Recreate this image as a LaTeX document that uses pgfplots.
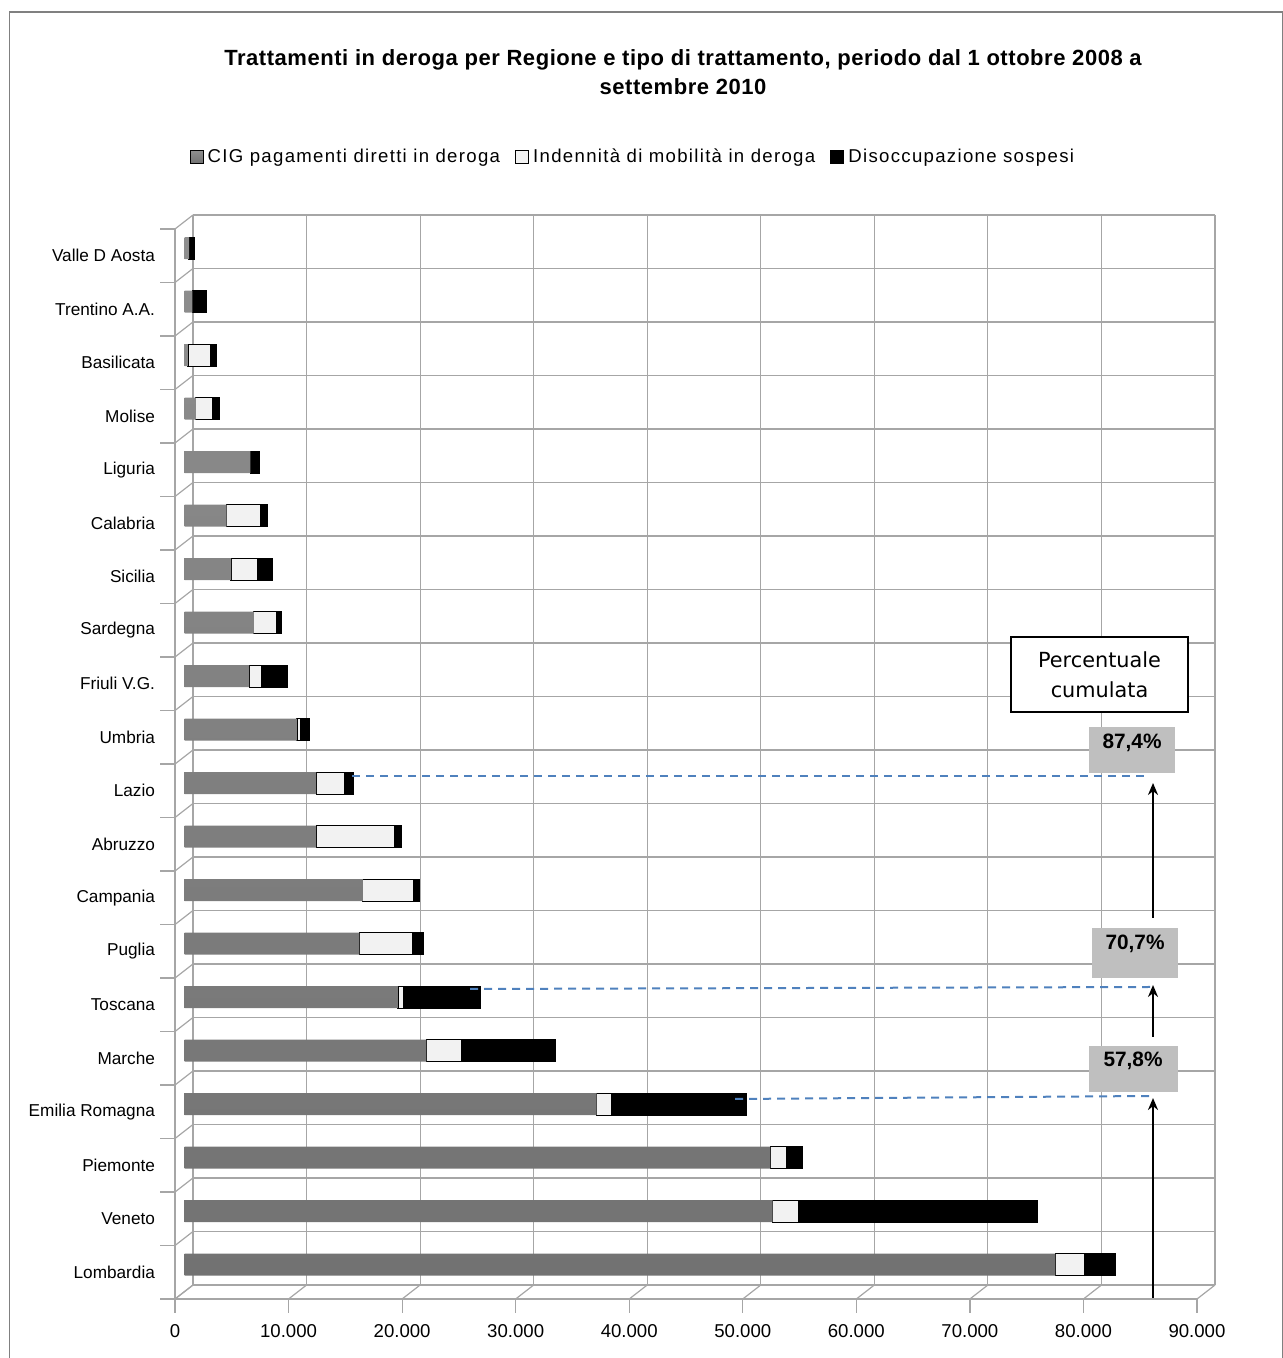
\documentclass[border=0pt]{standalone}
\usepackage{pgfplots}
\pgfplotsset{compat=1.18}
\usepackage{pgfplotstable}
\usepackage{fontspec}
\setmainfont{Liberation Sans}
\newfontfamily\dejavu{DejaVu Sans}
\usetikzlibrary{arrows.meta}
\definecolor{gtop}{HTML}{8E8E8E}
\definecolor{gbot}{HTML}{727272}
\definecolor{wbar}{HTML}{F2F2F2}
\definecolor{gridc}{HTML}{A6A6A6}
\definecolor{dashblue}{HTML}{4F81BD}
\definecolor{boxgray}{HTML}{BFBFBF}

\pgfplotstableread{
idx gray white black
0  76700 2600 2700
1  51800 2300 21000
2  51600 1400 1400
3  36300 1300 11900
4  21300 3100 8300
5  18800 500  6800
6  15400 4700 900
7  15700 4500 500
8  11600 6900 600
9  11600 2500 800
10 9900  300  800
11 5700  1100 2300
12 6100  2000 400
13 4100  2300 1300
14 3700  3000 600
15 5800  0    800
16 1000  1500 600
17 300   2000 500
18 700   0    1200
19 400   0    500
}\datatab

\begin{document}
\begin{tikzpicture}
\path[use as bounding box] (0,0) rectangle (641.5pt,679pt);

% back wall grid
\begin{axis}[at={(96.5pt,36.5pt)}, anchor=south west, scale only axis,
  width=511pt, height=535pt, xmin=0, xmax=90000, ymin=0, ymax=20,
  xtick={0,10000,...,90000}, ytick={0,1,...,20}, scaled ticks=false,
  xticklabels={}, yticklabels={}, tick style={draw=none},
  grid=major, major grid style={gridc, line width=0.6pt},
  axis line style={draw=none}]
\end{axis}

% front axis (labels)
\begin{axis}[at={(87.5pt,29.5pt)}, anchor=south west, scale only axis,
  width=511pt, height=535pt, xmin=0, xmax=90000, ymin=0, ymax=20,
  axis x line*=bottom, axis y line*=left,
  axis line style={gridc, line width=0.6pt},
  xtick={0,10000,...,90000}, ytick={0.5,1.5,...,19.5},
  yticklabels={Lombardia,Veneto,Piemonte,Emilia Romagna,Marche,Toscana,Puglia,Campania,Abruzzo,Lazio,Umbria,Friuli V.G.,Sardegna,Sicilia,Calabria,Liguria,Molise,Basilicata,Trentino A.A.,Valle D Aosta},
  tick style={draw=none}, scaled ticks=false,
  xticklabel style={font=\fontsize{9.3}{11}\selectfont, /pgf/number format/1000 sep={.}, /pgf/number format/assume math mode=true, yshift=-9pt},
  yticklabel style={font=\fontsize{8.6}{10}\selectfont, xshift=-6.5pt}]
\end{axis}

\begin{scope}[x=0.5pt,y=-0.5pt,shift={(0pt,679pt)}]
  \draw[gray, line width=0.6pt] (9.5,1358) -- (9.5,12) -- (1282.5,12) -- (1282.5,1358);
  \foreach \k in {0,...,9} {
    \draw[gridc, line width=0.6pt] ({175+113.556*\k},1299) -- ++(0,14);
    \draw[gridc, line width=0.6pt] ({175+113.556*\k},1299) -- ++(18,-14);
  }
  \foreach \j in {0,...,20} {
    \draw[gridc, line width=0.6pt] (175,{1299-53.5*\j}) -- ++(-15,0);
    \draw[gridc, line width=0.6pt] (175,{1299-53.5*\j}) -- ++(18,-14);
  }
  \node[align=center, font=\bfseries\fontsize{11}{14.5}\selectfont\addfontfeatures{LetterSpace=2.5}] at (683,72)
    {Trattamenti in deroga per Regione e tipo di trattamento, periodo dal 1 ottobre 2008 a\\settembre 2010};
\end{scope}

% bars
\begin{axis}[at={(92.25pt,33.25pt)}, anchor=south west, scale only axis,
  width=511pt, height=535pt, xmin=0, xmax=90000, ymin=-0.5, ymax=19.5,
  hide axis, scaled ticks=false, xbar stacked, bar width=11pt,
  legend image code/.code={\draw[#1] (0pt,-3.25pt) rectangle (6.5pt,3.25pt);},
  legend style={at={(0.4398,1.0603)}, anchor=center, draw=none, fill=none,
    legend columns=3, font=\fontsize{9.3}{11}\selectfont\addfontfeatures{LetterSpace=7},
    /tikz/every even column/.append style={column sep=5.5pt},
    inner sep=0pt}]
\addplot[draw=none, top color=gtop, bottom color=gbot] table[x=gray,y=idx]{\datatab};
\addplot[draw=black, line width=0.6pt, fill=wbar] table[x=white,y=idx]{\datatab};
\addplot[draw=black, line width=0.6pt, fill=black] table[x=black,y=idx]{\datatab};
\legend{CIG pagamenti diretti in deroga, Indennità di mobilità in deroga, Disoccupazione sospesi}
\end{axis}

\begin{scope}[x=0.5pt,y=-0.5pt,shift={(0pt,679pt)}]
  \draw[dashblue, line width=1pt, dash pattern=on 4pt off 3pt] (352,776) -- (1145,776);
  \draw[dashblue, line width=1pt, dash pattern=on 4pt off 3pt] (470,989) -- (1150,987);
  \draw[dashblue, line width=1pt, dash pattern=on 4pt off 3pt] (735,1099) -- (1150,1096);
  \draw[line width=1pt, -{Stealth[length=6pt,width=5pt]}] (1153,918) -- (1153,783);
  \draw[line width=1pt, -{Stealth[length=6pt,width=5pt]}] (1153,1037) -- (1153,985);
  \draw[line width=1pt, -{Stealth[length=6pt,width=5pt]}] (1153,1298) -- (1153,1098);
  \fill[boxgray] (1089,727) rectangle (1175,773);
  \node[font=\bfseries\fontsize{10.4}{12}\selectfont] at (1132,743) {87,4\%};
  \fill[boxgray] (1092,928) rectangle (1178,978);
  \node[font=\bfseries\fontsize{10.4}{12}\selectfont] at (1135,944) {70,7\%};
  \fill[boxgray] (1089,1046) rectangle (1178,1092);
  \node[font=\bfseries\fontsize{10.4}{12}\selectfont] at (1133,1061) {57,8\%};
  \draw[line width=1pt, fill=white] (1011,637) rectangle (1188,712);
  \node[align=center, font=\dejavu\fontsize{10.4}{15}\selectfont] at (1099.5,674.5) {Percentuale\\cumulata};
\end{scope}
\end{tikzpicture}
\end{document}
